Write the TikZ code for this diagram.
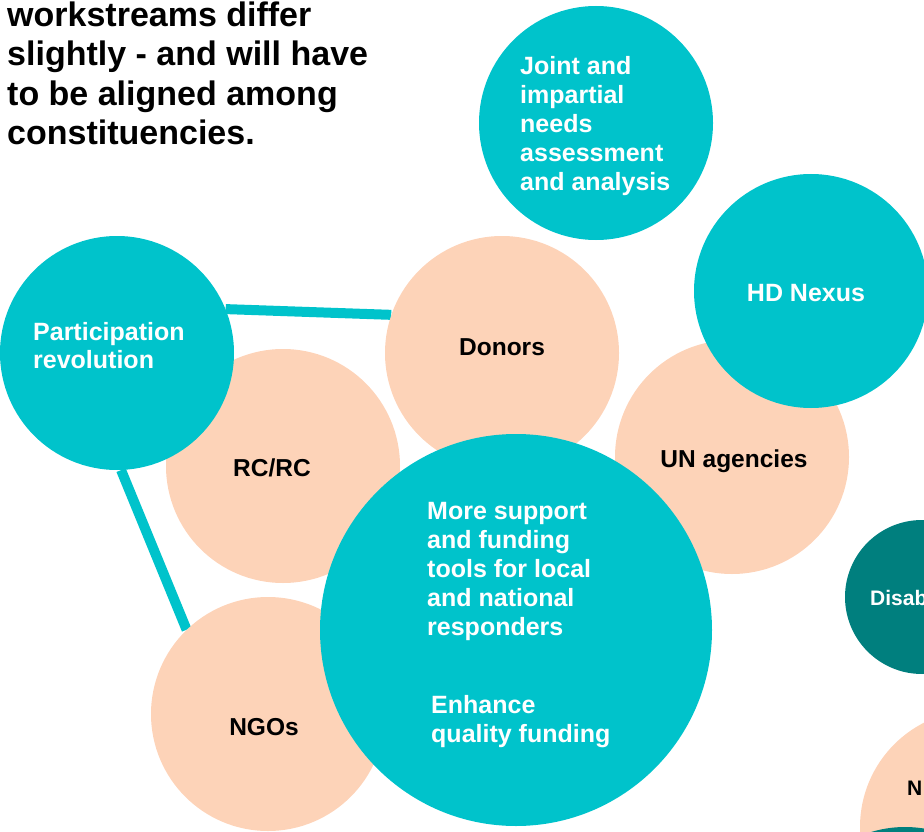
\documentclass[tikz,border=0pt]{standalone}
\usepackage{fontspec}
\setmainfont{Liberation Sans}
\usetikzlibrary{backgrounds}
\definecolor{tealc}{HTML}{00C3CB}
\definecolor{peach}{HTML}{FDD3B8}
\definecolor{darkteal}{HTML}{007F7E}
\begin{document}
\begin{tikzpicture}[x=1pt,y=-1pt,
  bub/.style={circle, inner sep=0pt, minimum size=234pt, fill=#1},
  link/.style={draw=tealc, line width=10pt},
  wtext/.style={text=white, font=\fontsize{25}{29}\selectfont\bfseries, align=left, inner sep=0pt, anchor=base west},
  btext/.style={text=black, font=\fontsize{24.5}{29}\selectfont\bfseries, inner sep=0pt, anchor=base},
  head/.style={text=black, font=\fontsize{34}{39.5}\selectfont\bfseries, align=left, inner sep=0pt, anchor=base west}]
\useasboundingbox (0,0) rectangle (924,832);
\clip (0,0) rectangle (924,832);
% peach circles
\node[bub=peach] (rc) at (283,466) {};
\node[bub=peach] (ngos) at (268,714) {};
\node[bub=peach] (donors) at (502,353) {};
\node[bub=peach] (un) at (732,457) {};
\node[bub=peach] (ngos2) at (977,827) {};
% teal circles
\node[bub=tealc] (part) at (117,353) {};
\node[bub=tealc] (joint) at (596,123) {};
\node[bub=tealc] (hd) at (811,291) {};
\node[bub=tealc, minimum size=392pt] (big) at (516,630) {};
\node[bub=darkteal, minimum size=154pt] (disab) at (922,597) {};
\node[bub=darkteal] (extra) at (905,944) {};
% connectors
\begin{pgfonlayer}{background}
\draw[link] (part.22) -- (donors.161);
\draw[link] (part.-88) -- (ngos.134);
\end{pgfonlayer}
% texts (base anchor = baseline of the last line)
\node[head] (title) at (7,145) {workstreams differ\\slightly - and will have\\to be aligned among\\constituencies.};
\node[wtext, font=\fontsize{25}{28}\selectfont\bfseries] (tpart) at (33,368) {Participation\\revolution};
\node[wtext] (tjoint) at (520,190) {Joint and\\impartial\\needs\\assessment\\and analysis};
\node[wtext] (tbig) at (427,635) {More support\\and funding\\tools for local\\and national\\responders};
\node[wtext] (tfund) at (431,742) {Enhance\\quality funding};
\node[wtext, align=center, anchor=base] (thd) at (806,301) {HD Nexus};
\node[btext] (tdonors) at (502,355) {Donors};
\node[btext] (trc) at (272,476) {RC/RC};
\node[btext] (tun) at (734,467) {UN agencies};
\node[btext] (tngos) at (264,735) {NGOs};
\node[wtext, font=\fontsize{21}{24}\selectfont\bfseries] (tdisab) at (870,605) {Disab};
\node[btext, anchor=base west, font=\fontsize{21}{24}\selectfont\bfseries] (tn) at (907,795) {N};
\end{tikzpicture}
\end{document}
